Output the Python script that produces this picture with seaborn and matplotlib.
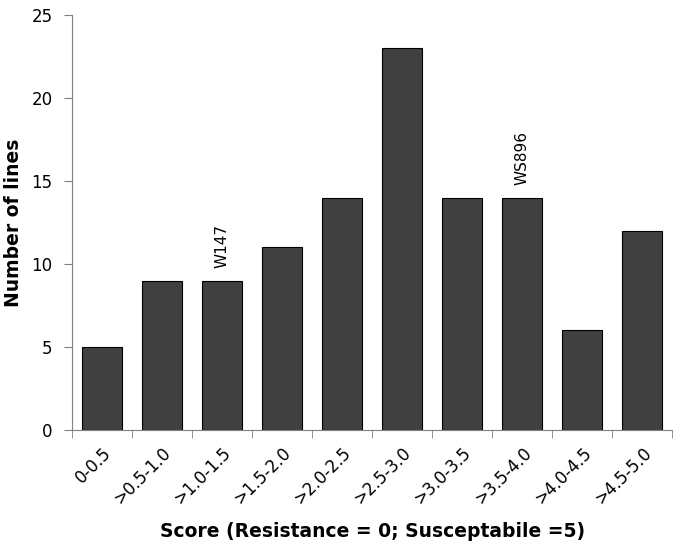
import matplotlib
matplotlib.use('Agg')
import matplotlib.pyplot as plt
import seaborn as sns
import pandas as pd

score_bins = ['0-0.5', '>0.5-1.0', '>1.0-1.5', '>1.5-2.0', '>2.0-2.5',
              '>2.5-3.0', '>3.0-3.5', '>3.5-4.0', '>4.0-4.5', '>4.5-5.0']
n_lines = [5, 9, 9, 11, 14, 23, 14, 14, 6, 12]
labels = ['', '', 'W147', '', '', '', '', 'WS896', '', '']

def draw_chart():
	sns.set_style('white')
	plt.rcParams['font.family'] = ['DejaVu Sans']
	plt.rcParams['text.color'] = 'black'
	plt.rcParams['axes.labelcolor'] = 'black'
	plt.rcParams['xtick.color'] = 'black'
	plt.rcParams['ytick.color'] = 'black'
	df = pd.DataFrame({'score': score_bins, 'count': n_lines})

	fig = plt.figure(figsize=(6.79, 5.52), dpi=100)
	ax = fig.add_axes([0.106, 0.221, 0.884, 0.752])
	sns.barplot(data=df, x='score', y='count', color='#404040', saturation=1,
				edgecolor='black', linewidth=0.8, width=0.66, ax=ax)

	for i, (v, lab) in enumerate(zip(n_lines, labels)):
		if lab:
			ax.text(i, v + 0.75, lab, rotation=90, ha='center', va='bottom', fontsize=11)

	ax.set_xlim(-0.5, len(score_bins) - 0.5)
	ax.set_ylim(0, 25)
	ax.set_yticks([0, 5, 10, 15, 20, 25])
	ax.set_xticks(range(len(score_bins)))
	ax.set_xticklabels(score_bins, rotation=45, ha='right', rotation_mode='anchor', fontsize=12)
	ax.tick_params(axis='x', which='major', length=0, pad=10)
	ax.set_xticks([i - 0.5 for i in range(len(score_bins) + 1)], minor=True)
	ax.tick_params(axis='x', which='minor', length=6, color='#808080', direction='out', bottom=True)
	ax.tick_params(axis='y', length=6, color='#808080', direction='out', left=True, labelsize=12, pad=8)

	ax.set_xlabel('Score (Resistance = 0; Susceptabile =5)', fontsize=13.5, fontweight='bold', labelpad=10)
	ax.set_ylabel('Number of lines', fontsize=13.5, fontweight='bold', labelpad=6)

	sns.despine(ax=ax)
	for s in ['left', 'bottom']:
		ax.spines[s].set_color('#808080')
		ax.spines[s].set_linewidth(0.8)

	fig.savefig('out.png', dpi=100)

if __name__ == '__main__':
	draw_chart()
